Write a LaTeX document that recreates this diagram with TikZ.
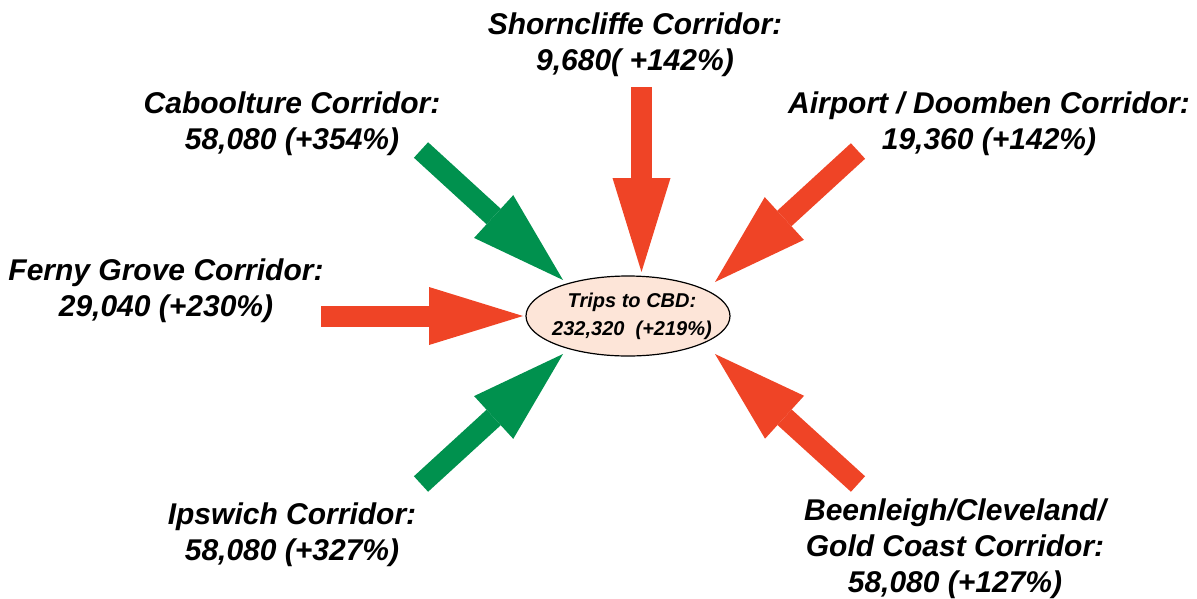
\documentclass[tikz,border=0pt]{standalone}
\usepackage{fontspec}
\setmainfont{Liberation Sans}
\usetikzlibrary{shapes.geometric,arrows.meta}
\definecolor{corgreen}{RGB}{0,145,78}
\definecolor{corred}{RGB}{239,68,38}
\definecolor{cbdfill}{RGB}{253,229,216}
\begin{document}
\begin{tikzpicture}[x=1pt,y=-1pt,
  corlabel/.style={font=\fontsize{30}{36}\selectfont\bfseries\itshape,
    align=center, inner sep=0pt},
  cbd/.style={ellipse, draw=black, line width=1.2pt, fill=cbdfill,
    minimum width=204pt, minimum height=80pt, inner xsep=-14pt,
    inner ysep=0pt, align=center,
    font=\fontsize{20}{28}\selectfont\bfseries\itshape},
  flow/.style={line width=21pt,
    -{Triangle[width=58pt,length=94pt,line width=0pt]}},
  growth/.style={flow, draw=corgreen},
  steady/.style={flow, draw=corred}]
\useasboundingbox (0,0) rectangle (1197,598);

% central destination
\node[cbd] (cbd) at (628,316) {\hspace*{8pt}Trips to CBD:\\\hspace*{8pt}232,320~ (+219\%)};

% corridor labels
\node[corlabel] (shorn) at (635,45) {Shorncliffe Corridor:\\9,680( +142\%)};
\node[corlabel] (cab) at (292,124) {Caboolture Corridor:\\58,080 (+354\%)};
\node[corlabel] (air) at (989,124) {Airport / Doomben Corridor:\\19,360 (+142\%)};
\node[corlabel] (ferny) at (166,291) {Ferny Grove Corridor:\\29,040 (+230\%)};
\node[corlabel] (ips) at (292,535) {Ipswich Corridor:\\58,080 (+327\%)};
\node[corlabel] (been) at (955,549) {Beenleigh/Cleveland/\\Gold Coast Corridor:\\58,080 (+127\%)};

% arrow tails and heads
\coordinate (shornT) at (641.5,87);  \coordinate (shornH) at (641.5,272);
\coordinate (cabT) at (421,150);     \coordinate (cabH) at (563,280);
\coordinate (airT) at (858,151);     \coordinate (airH) at (715,282);
\coordinate (fernyT) at (321,316);   \coordinate (fernyH) at (523,316);
\coordinate (ipsT) at (421,484);     \coordinate (ipsH) at (563,354);
\coordinate (beenT) at (858,484);    \coordinate (beenH) at (715,354);

% flows into the CBD
\draw[steady] (shornT) -- (shornH);
\draw[growth] (cabT) -- (cabH);
\draw[steady] (airT) -- (airH);
\draw[steady] (fernyT) -- (fernyH);
\draw[growth] (ipsT) -- (ipsH);
\draw[steady] (beenT) -- (beenH);
\end{tikzpicture}
\end{document}
